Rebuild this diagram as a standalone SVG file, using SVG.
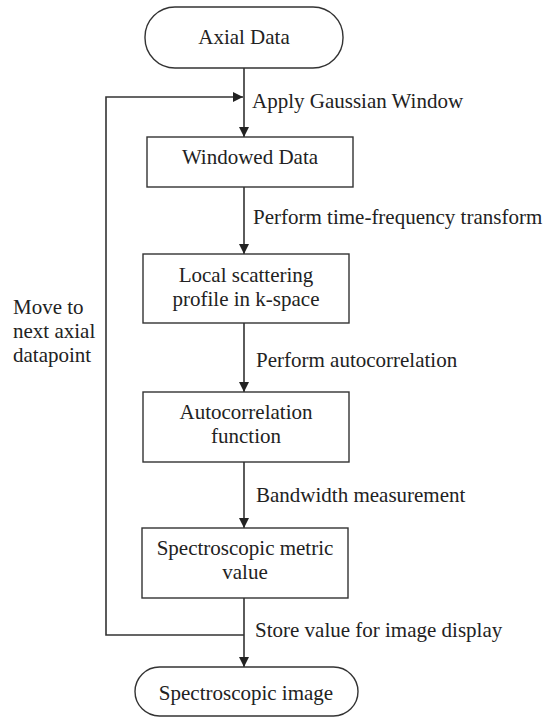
<svg xmlns="http://www.w3.org/2000/svg" width="545" height="719" viewBox="0 0 545 719">
  <style>
    .box { fill: #ffffff; stroke: #333333; stroke-width: 1.4; }
    .line { fill: none; stroke: #333333; stroke-width: 1.6; }
    text { font-family: "Liberation Serif", "Times New Roman", serif; font-size: 21px; fill: #222222; }
    .c { text-anchor: middle; }
  </style>
  <defs>
    <marker id="arrow" viewBox="0 0 10 10" refX="10" refY="5" markerWidth="10" markerHeight="10" markerUnits="userSpaceOnUse" orient="auto">
      <path d="M0,0 L10,5 L0,10 z" fill="#222222"/>
    </marker>
  </defs>
  <rect width="545" height="719" fill="#ffffff"/>

  <g id="connectors">
    <line class="line" x1="244" y1="68" x2="244" y2="137" marker-end="url(#arrow)"/>
    <line class="line" x1="244" y1="187" x2="244" y2="254" marker-end="url(#arrow)"/>
    <line class="line" x1="244" y1="323" x2="244" y2="392" marker-end="url(#arrow)"/>
    <line class="line" x1="244" y1="462" x2="244" y2="528" marker-end="url(#arrow)"/>
    <line class="line" x1="244" y1="598" x2="244" y2="667" marker-end="url(#arrow)"/>
    <polyline class="line" points="244,635 106,635 106,97 243,97" marker-end="url(#arrow)"/>
    <text x="252" y="108">Apply Gaussian Window</text>
    <text x="253" y="224">Perform time-frequency transform</text>
    <text x="256" y="367">Perform autocorrelation</text>
    <text x="256" y="502">Bandwidth measurement</text>
    <text x="255" y="637">Store value for image display</text>
    <text x="13" y="314">Move to</text>
    <text x="13" y="338">next axial</text>
    <text x="13" y="362">datapoint</text>
  </g>

  <g id="axial-data">
    <rect class="box" x="145" y="7" width="198" height="61" rx="30" ry="30"/>
    <text class="c" x="244" y="44">Axial Data</text>
  </g>

  <g id="windowed-data">
    <rect class="box" x="147" y="137" width="206" height="50"/>
    <text class="c" x="250" y="164">Windowed Data</text>
  </g>

  <g id="local-scattering">
    <rect class="box" x="143" y="254" width="206" height="69"/>
    <text class="c" x="246" y="282">Local scattering</text>
    <text class="c" x="246" y="306">profile in k-space</text>
  </g>

  <g id="autocorrelation">
    <rect class="box" x="143" y="392" width="206" height="70"/>
    <text class="c" x="246" y="419">Autocorrelation</text>
    <text class="c" x="246" y="443">function</text>
  </g>

  <g id="spectroscopic-metric">
    <rect class="box" x="142" y="528" width="206" height="70"/>
    <text class="c" x="245" y="555">Spectroscopic metric</text>
    <text class="c" x="245" y="579">value</text>
  </g>

  <g id="spectroscopic-image">
    <rect class="box" x="135" y="667" width="223" height="49" rx="24.5" ry="24.5"/>
    <text class="c" x="246" y="700">Spectroscopic image</text>
  </g>
</svg>
